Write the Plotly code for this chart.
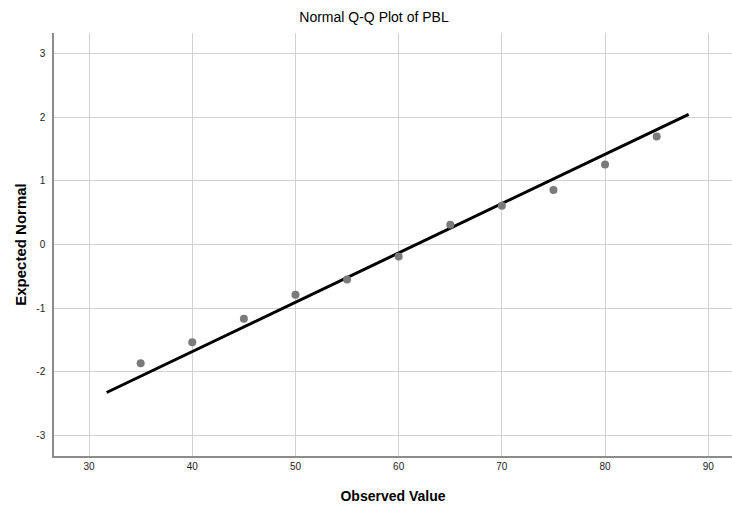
import plotly.graph_objects as go

observed = [35, 40, 45, 50, 55, 60, 65, 70, 75, 80, 85]
expected = [-1.87, -1.54, -1.17, -0.79, -0.55, -0.19, 0.31, 0.61, 0.86, 1.26, 1.70]
line_x = [31.7, 88.1]
line_y = [-2.33, 2.05]
x_ticks = [30, 40, 50, 60, 70, 80, 90]
y_ticks = [-3, -2, -1, 0, 1, 2, 3]
y_tick_labels = ["-3", "-2", "-1", "0", "1", "2", "3"]

FONT = "Liberation Sans, Arial, sans-serif"

fig = go.Figure()
fig.add_trace(go.Scatter(x=line_x, y=line_y, mode="lines",
                         line=dict(color="black", width=3), hoverinfo="skip"))
fig.add_trace(go.Scatter(x=observed, y=expected, mode="markers",
                         marker=dict(color="#7a7a7a", size=8, line=dict(width=0))))

fig.update_layout(
    width=732, height=508,
    margin=dict(l=54, r=0, t=33, b=52),
    paper_bgcolor="white", plot_bgcolor="white",
    showlegend=False,
    title=dict(text="Normal Q-Q Plot of PBL", x=374/732, xanchor="center",
               y=1 - 17/508, yanchor="middle",
               font=dict(family=FONT, size=14, color="black")),
    xaxis=dict(range=[26.6, 92.3], tickvals=x_ticks, ticks="", showgrid=True,
               gridcolor="#d0d0d0", gridwidth=1, zeroline=False,
               showline=True, linecolor="#8c8c8c", linewidth=1.5,
               tickfont=dict(family=FONT, size=10, color="#222"),
               title=dict(text="<b>Observed Value</b>", standoff=20,
                          font=dict(family=FONT, size=14, color="black"))),
    yaxis=dict(range=[-3.33, 3.33], tickvals=y_ticks, ticktext=y_tick_labels,
               ticks="", showgrid=True, ticklabelstandoff=5,
               gridcolor="#d0d0d0", gridwidth=1, zeroline=False,
               showline=True, linecolor="#8c8c8c", linewidth=1.5,
               tickfont=dict(family=FONT, size=10, color="#222"),
               title=dict(text="<b>Expected Normal</b>", standoff=6,
                          font=dict(family=FONT, size=15, color="black"))),
)

fig.write_html("out.html", config={"displayModeBar": False})
with open("out.html", encoding="utf-8") as f:
    html = f.read()
html = html.replace("<body>", "<body style=\"margin:0\">", 1)
with open("out.html", "w", encoding="utf-8") as f:
    f.write(html)
